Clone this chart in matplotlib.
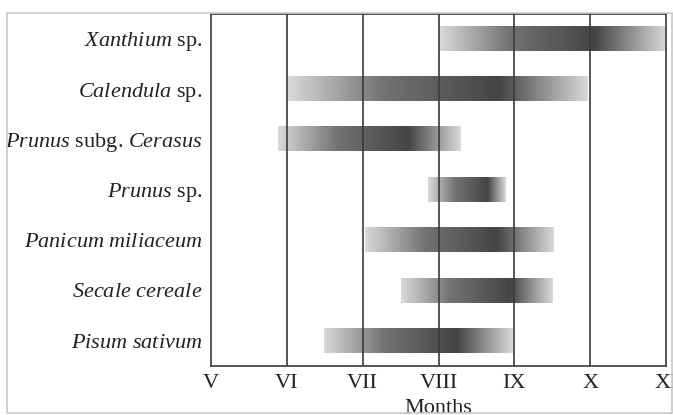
import numpy as np
import matplotlib
matplotlib.use('Agg')
from matplotlib import pyplot as plt
from matplotlib.patches import Rectangle

plt.rcParams['font.family'] = 'Liberation Serif'
plt.rcParams['mathtext.fontset'] = 'custom'
plt.rcParams['mathtext.rm'] = 'Liberation Serif'
plt.rcParams['mathtext.it'] = 'Liberation Serif:italic'

# Data (months: V=5 ... XI=11)
species = [r'$\mathit{Xanthium}$ sp.',
           r'$\mathit{Calendula}$ sp.',
           r'$\mathit{Prunus}$ subg. $\mathit{Cerasus}$',
           r'$\mathit{Prunus}$ sp.',
           r'$\mathit{Panicum\ miliaceum}$',
           r'$\mathit{Secale\ cereale}$',
           r'$\mathit{Pisum\ sativum}$']
start = [8.0, 6.02, 5.88, 7.86, 7.03, 7.51, 6.49]
peak = [10.05, 8.8, 7.6, 8.64, 8.77, 8.95, 8.24]
end = [11.0, 9.97, 8.29, 8.88, 9.51, 9.51, 8.98]
months = [5, 6, 7, 8, 9, 10, 11]
month_labels = ['V', 'VI', 'VII', 'VIII', 'IX', 'X', 'XI']

line_col = '#3a3a3a'
text_col = '#222222'
fs = 16

fig = plt.figure(figsize=(6.73, 4.15), dpi=100)
ax = fig.add_axes([211/673, 49/415, 455/673, 352/415])

bar_h = 0.49
for i in range(len(species)):
    s, p, e = start[i], peak[i], end[i]
    x = np.linspace(s, e, 400)
    # light -> medium -> darkest at peak -> light
    shade = np.interp(x, [s, s + 0.45*(p - s), p, e], [0.85, 0.45, 0.27, 0.85])
    ax.imshow(shade[np.newaxis, :], cmap='gray', vmin=0, vmax=1, aspect='auto',
              extent=(s, e, i + bar_h/2, i - bar_h/2), interpolation='bilinear',
              zorder=1)

for m in months[1:-1]:
    ax.axvline(m, color=line_col, lw=1.2, zorder=3)

ax.set_xlim(5, 11)
ax.set_ylim(6.5, -0.48)
ax.set_xticks(months)
ax.set_xticklabels(month_labels, fontsize=fs, color=text_col)
ax.set_yticks(range(len(species)))
ax.set_yticklabels(species, fontsize=fs, color=text_col)
ax.tick_params(length=0)
ax.tick_params(axis='x', pad=6)
ax.tick_params(axis='y', pad=6)
for sp in ax.spines.values():
    sp.set_color(line_col)
    sp.set_linewidth(1.2)
    sp.set_zorder(3)
ax.set_xlabel('Months', fontsize=fs, color=text_col, labelpad=4)

# light outer frame
fig.patches.append(Rectangle((7/673, 2/415), 665/673, 400/415, transform=fig.transFigure,
                             fill=False, edgecolor='#c8c8c8', lw=1.2, zorder=0))

fig.savefig('out.png', dpi=100)
